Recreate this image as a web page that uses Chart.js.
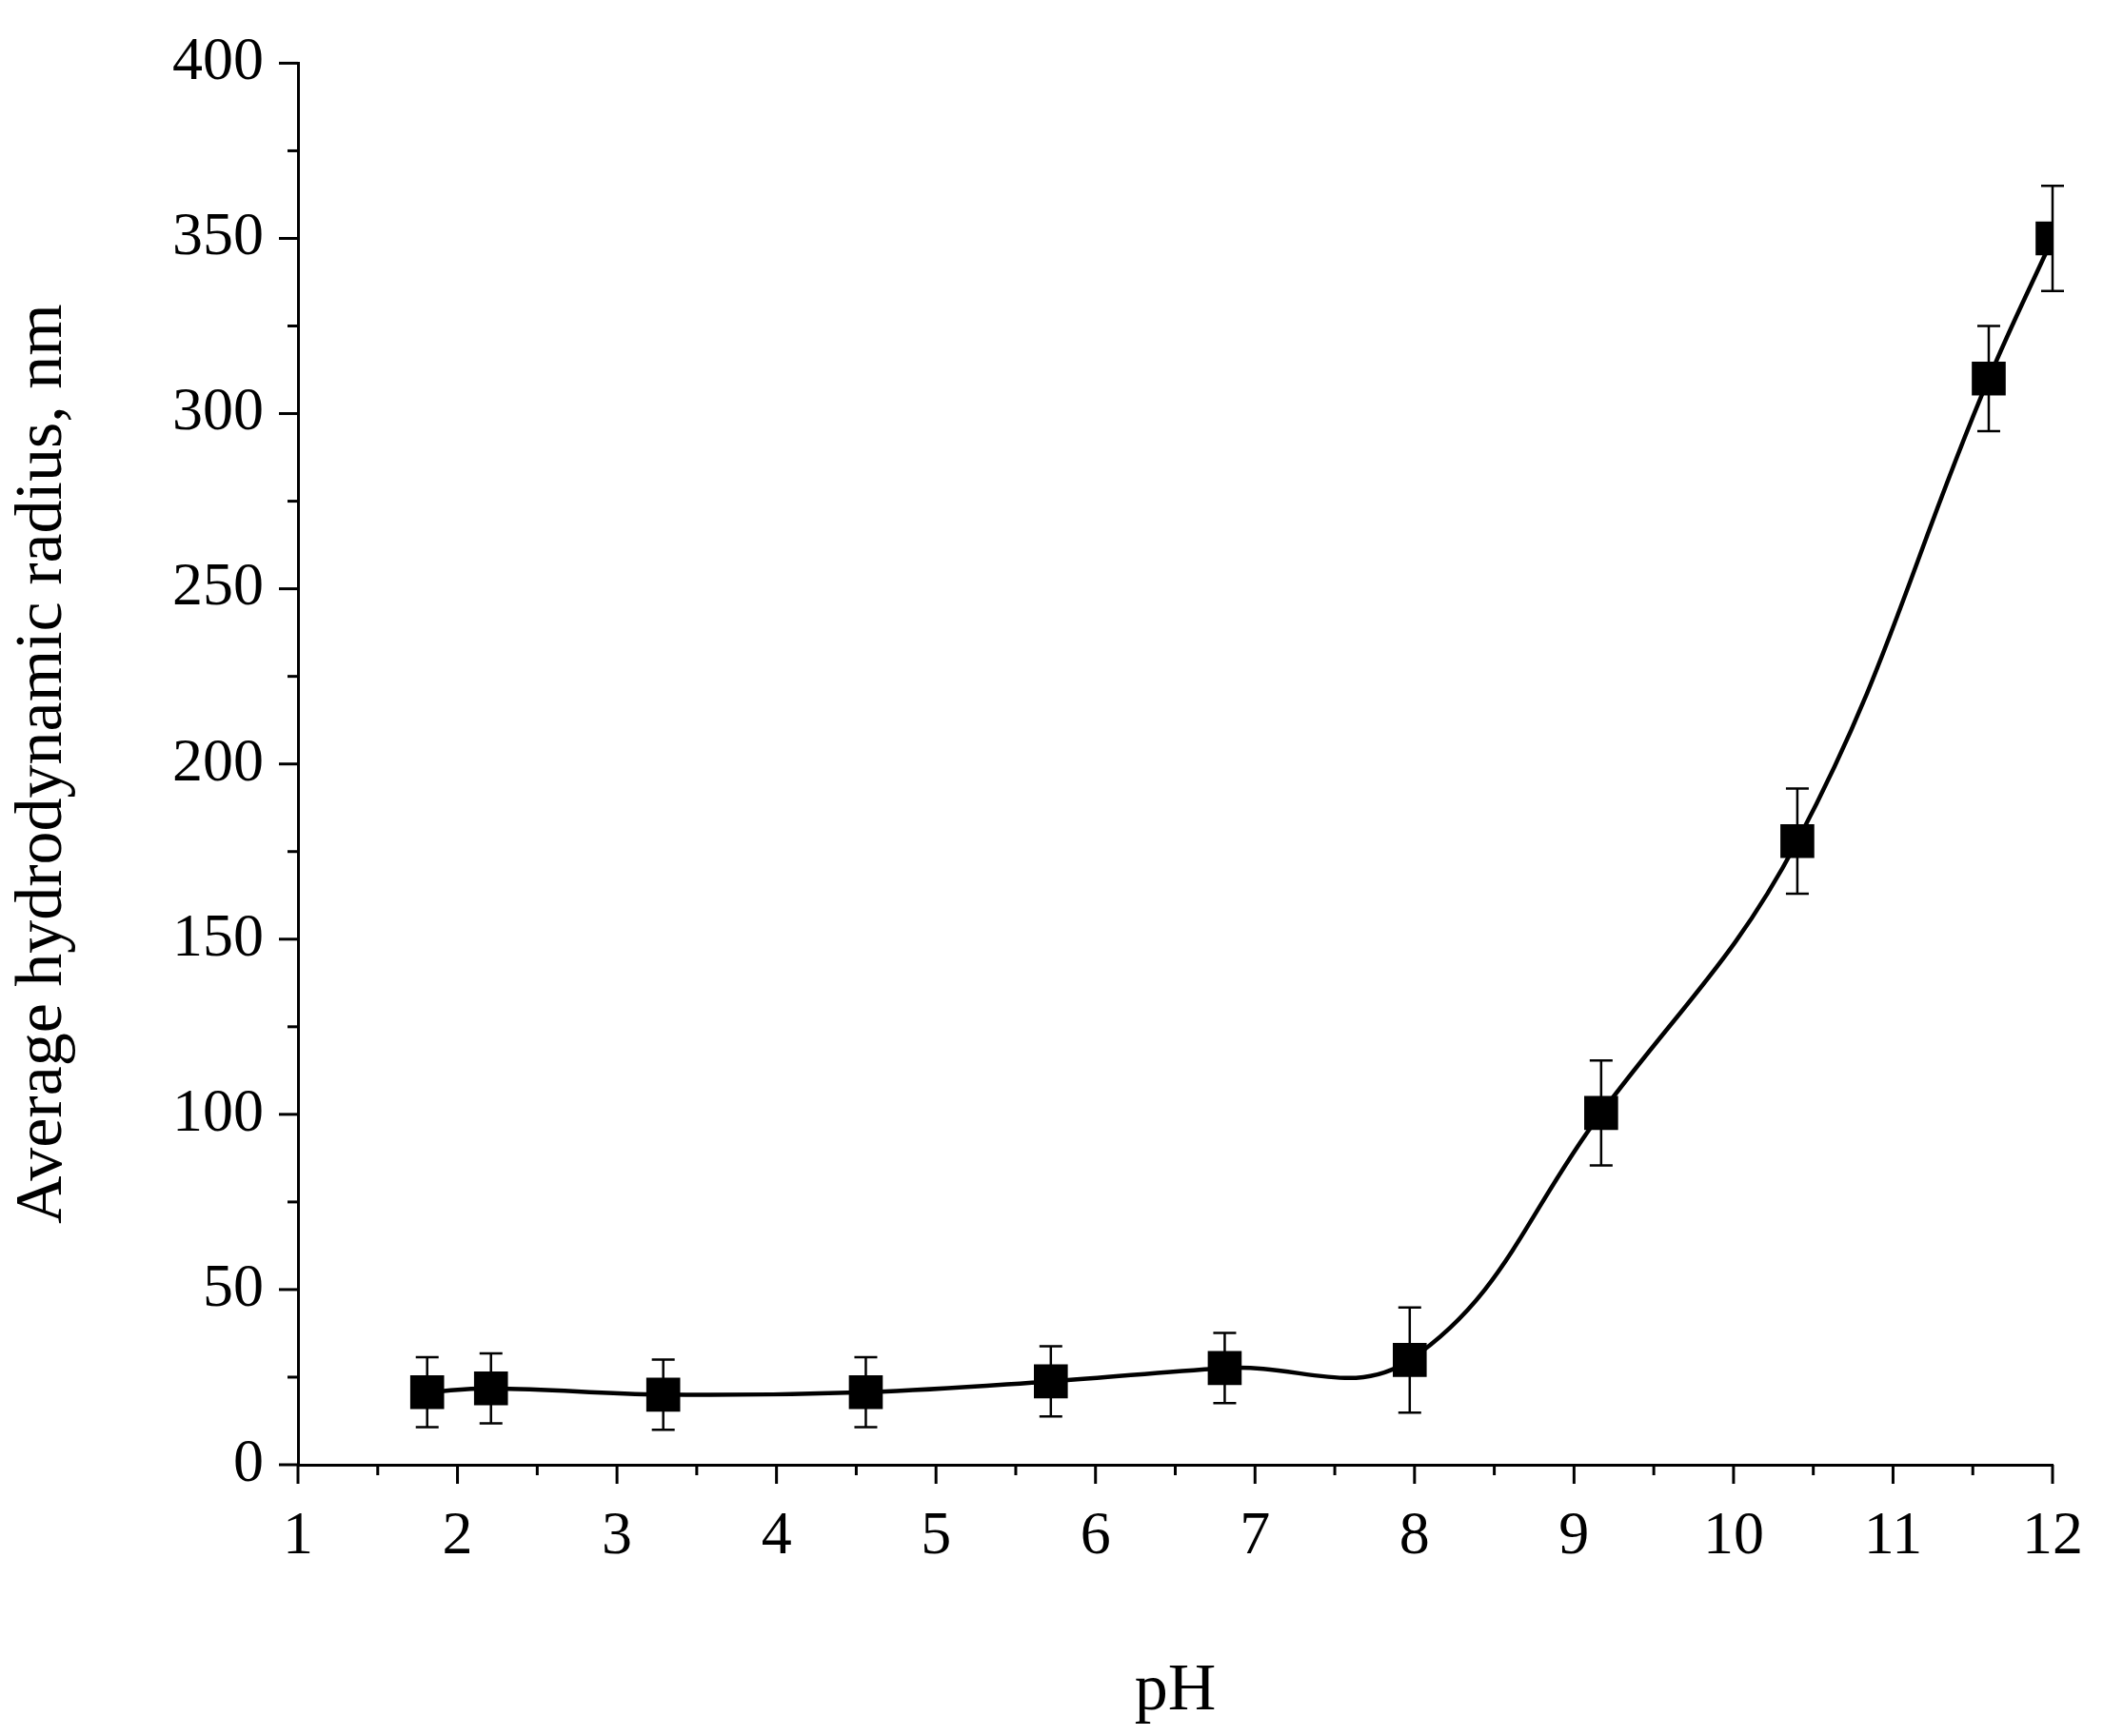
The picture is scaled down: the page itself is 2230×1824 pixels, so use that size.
<!DOCTYPE html>
<html>
<head>
<meta charset="utf-8">
<script src="https://cdn.jsdelivr.net/npm/chart.js@4"></script>
<style>
  html, body { margin: 0; padding: 0; background: #fff; }
  #wrap { width: 2230px; height: 1824px; }
</style>
</head>
<body>
<div id="wrap"><canvas id="c" width="2230" height="1824"></canvas></div>
<script>
const pH = [1.81, 2.21, 3.29, 4.56, 5.72, 6.81, 7.97, 9.17, 10.4, 11.6, 12.0];
const radius = [20.7, 21.8, 20, 20.7, 23.8, 27.6, 29.9, 100.4, 178, 310, 350];
const err = [10, 10, 10, 10, 10, 10, 15, 15, 15, 15, 15];

const FONT = "'Liberation Serif', 'Times New Roman', serif";

// error bars + outside ticks (major + minor)
const extras = {
  id: "extras",
  afterDatasetsDraw(chart){
    const {ctx, scales:{x, y}} = chart;
    ctx.save();
    ctx.strokeStyle = "#000";
    ctx.lineWidth = 2.5;
    pH.forEach((v, i) => {
      const px = x.getPixelForValue(v);
      const top = y.getPixelForValue(radius[i] + err[i]);
      const bot = y.getPixelForValue(radius[i] - err[i]);
      ctx.beginPath();
      ctx.moveTo(px, top); ctx.lineTo(px, bot);
      ctx.moveTo(px - 12, top); ctx.lineTo(px + 12, top);
      ctx.moveTo(px - 12, bot); ctx.lineTo(px + 12, bot);
      ctx.stroke();
    });
    ctx.lineWidth = 3;
    for(let v = 1; v <= 12; v += 0.5){
      const px = x.getPixelForValue(v);
      const len = Number.isInteger(v) ? 20 : 11;
      ctx.beginPath(); ctx.moveTo(px, x.top); ctx.lineTo(px, x.top + len); ctx.stroke();
    }
    for(let v = 0; v <= 400; v += 25){
      const py = y.getPixelForValue(v);
      const len = v % 50 === 0 ? 20 : 11;
      ctx.beginPath(); ctx.moveTo(y.right, py); ctx.lineTo(y.right - len, py); ctx.stroke();
    }
    ctx.restore();
  }
};

new Chart(document.getElementById("c"), {
  type: "line",
  data: {
    datasets: [{
      data: pH.map((v, i) => ({x: v, y: radius[i]})),
      borderColor: "#000",
      backgroundColor: "#000",
      borderWidth: 4.5,
      tension: 0.4,
      cubicInterpolationMode: "default",
      pointStyle: "rect",
      pointRadius: 22,
      pointHoverRadius: 22
    }]
  },
  options: {
    responsive: false,
    animation: false,
    layout: { padding: { top: 54, right: 74, left: 0, bottom: 0 } },
    plugins: { legend: { display: false }, tooltip: { enabled: false } },
    scales: {
      x: {
        type: "linear", min: 1, max: 12,
        afterFit: s => { s.height = 285; },
        border: { display: true, color: "#000", width: 3 },
        grid: { display: false },
        ticks: { stepSize: 1, color: "#000", padding: 30, font: { family: FONT, size: 64 } },
        title: { display: true, text: "pH", color: "#000", padding: { top: 40 }, font: { family: FONT, size: 70 } }
      },
      y: {
        min: 0, max: 400,
        afterFit: s => { s.width = 313; },
        border: { display: true, color: "#000", width: 3 },
        grid: { display: false },
        ticks: { stepSize: 50, color: "#000", padding: 28, font: { family: FONT, size: 64 } },
        title: { display: true, text: "Average hydrodynamic radius, nm", color: "#000", padding: { bottom: 10 }, font: { family: FONT, size: 70 } }
      }
    }
  },
  plugins: [extras]
});
</script>
</body>
</html>
